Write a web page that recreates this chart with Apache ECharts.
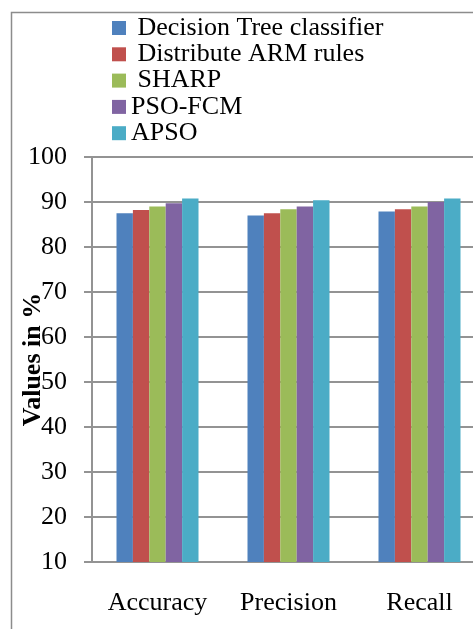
<!DOCTYPE html>
<html>
<head>
<meta charset="utf-8">
<script src="https://cdn.jsdelivr.net/npm/echarts@6/dist/echarts.min.js"></script>
<style>
  html, body { margin: 0; padding: 0; background: #fff; }
  #chart { width: 473px; height: 629px; }
</style>
</head>
<body>
<div id="chart"></div>
<script>
// Performance measures per method (values in %)
const categories = ['Accuracy', 'Precision', 'Recall'];
const seriesNames = ['Decision Tree classifier', 'Distribute ARM rules', 'SHARP', 'PSO-FCM', 'APSO'];
const decisionTree = [87.5, 87.0, 87.9];
const distributeArm = [88.2, 87.5, 88.4];
const sharp = [89.0, 88.4, 89.0];
const psoFcm = [89.7, 89.0, 90.0];
const apso = [90.8, 90.4, 90.8];
const yTicks = [10, 20, 30, 40, 50, 60, 70, 80, 90, 100];

const seriesValues = [decisionTree, distributeArm, sharp, psoFcm, apso];
const colors = ['#4F81BD', '#C0504D', '#9BBB59', '#8064A2', '#4BACC6'];
const serif = '"Liberation Serif", "Times New Roman", serif';
const gridGray = '#939393';

const chart = echarts.init(document.getElementById('chart'));
chart.setOption({
  animation: false,
  color: colors,
  textStyle: { fontFamily: serif },
  graphic: [{
    type: 'rect',
    shape: { x: 11.5, y: 12.5, width: 600, height: 800 },
    style: { fill: 'none', stroke: '#8c8c8c', lineWidth: 1.5 },
    silent: true
  }],
  legend: {
    orient: 'vertical',
    left: 112,
    top: 15,
    padding: 0,
    icon: 'rect',
    itemWidth: 14,
    itemHeight: 14,
    itemGap: 0.3,
    data: seriesNames,
    formatter: function (name) {
      return seriesNames.indexOf(name) < 3 ? ' ' + name : name;
    },
    textStyle: { fontFamily: serif, fontSize: 26, color: '#000', lineHeight: 26 }
  },
  grid: {
    left: 92, top: 157, width: 393, height: 405,
    containLabel: false,
    outerBoundsMode: 'none'
  },
  xAxis: {
    type: 'category',
    data: categories,
    axisLine: { lineStyle: { color: gridGray, width: 2 } },
    axisTick: { show: false },
    axisLabel: { interval: 0, hideOverlap: false, fontFamily: serif, fontSize: 26, color: '#000', margin: 28, lineHeight: 26 }
  },
  yAxis: {
    type: 'value',
    min: yTicks[0],
    max: yTicks[yTicks.length - 1],
    interval: 10,
    name: 'Values in %',
    nameLocation: 'middle',
    nameGap: 46,
    nameMoveOverlap: false,
    nameTextStyle: { fontFamily: serif, fontSize: 26, fontWeight: 'bold', color: '#000' },
    axisLine: { show: true, lineStyle: { color: gridGray, width: 2 } },
    axisTick: { show: true, length: 8, lineStyle: { color: gridGray, width: 2 } },
    axisLabel: { fontFamily: serif, fontSize: 26, color: '#000', margin: 25 },
    splitLine: { show: true, lineStyle: { color: gridGray, width: 2 } }
  },
  series: seriesNames.map(function (name, i) {
    return {
      name: name,
      type: 'bar',
      data: seriesValues[i],
      barGap: '0%',
      barCategoryGap: '37.4%'
    };
  })
});
</script>
</body>
</html>
